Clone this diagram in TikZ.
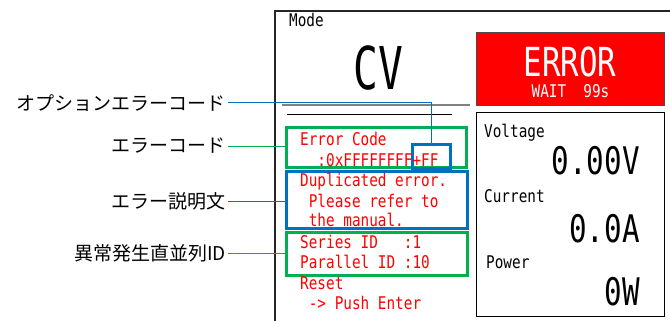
\documentclass[tikz,border=0pt]{standalone}
\usepackage{fontspec}
\newfontfamily\jpfont{Noto Sans CJK JP}
\newfontfamily\monoA[FakeStretch=0.82]{DejaVu Sans Mono}
\newfontfamily\monoB[FakeStretch=0.77]{DejaVu Sans Mono}
\newfontfamily\monoC[FakeStretch=0.70]{DejaVu Sans Mono}
\definecolor{ggreen}{HTML}{00B050}
\definecolor{bblue}{HTML}{0070C0}
\tikzset{
  lab/.style={font=\jpfont\fontsize{19}{19}\selectfont, anchor=east, inner sep=2pt},
  small/.style={font=\monoA\fontsize{17.5}{20}\selectfont, inner sep=0pt, anchor=base west},
  redtxt/.style={small, text=red},
  big/.style={font=\monoB\fontsize{38}{40}\selectfont, inner sep=0pt, anchor=base east},
  frame/.style={draw=black, line width=1pt, inner sep=0pt, outer sep=0pt, anchor=north west},
  gbox/.style={draw=ggreen, line width=3pt, inner sep=0pt, outer sep=0pt, anchor=north west},
  bbox/.style={draw=bblue, line width=3pt, inner sep=0pt, outer sep=0pt, anchor=north west},
  gline/.style={draw=ggreen, line width=1pt},
  bline/.style={draw=bblue, line width=1pt},
}
\begin{document}
\begin{tikzpicture}[x=1pt,y=-1pt]
\useasboundingbox (0,0) rectangle (670,321);
% display frame
\coordinate (fa) at (275,321);
\coordinate (fb) at (275,11);
\coordinate (fc) at (670,11);
\draw[line width=1.3pt, black!85] (fa) -- (fb) -- (fc);
% separator lines
\coordinate (ga) at (282,105);
\coordinate (gb) at (470,105);
\draw[line width=2pt, black!50] (ga) -- (gb);
\coordinate (ka) at (287,115);
\coordinate (kb) at (452,115);
\draw[line width=1pt, black] (ka) -- (kb);
% red error box
\node[frame, draw=black!70, fill=red, minimum width=188pt, minimum height=73pt] (err) at (476,33) {};
% right measurement box
\node[frame, minimum width=188pt, minimum height=203pt] (meas) at (476,113) {};
% highlight boxes
\node[gbox, minimum width=180pt, minimum height=40pt] (ec) at (286,127) {};
\node[bbox, minimum width=181pt, minimum height=57pt] (desc) at (286,171) {};
\node[gbox, minimum width=181pt, minimum height=43pt] (ids) at (286,232) {};
\node[bbox, minimum width=38pt, minimum height=24pt] (opt) at (412,144) {};
% display texts
\node[small] (mode) at (289,27) {Mode};
\node[font=\monoC\fontsize{59}{60}\selectfont, inner sep=0pt, anchor=base] (cv) at (378,90) {CV};
\node[font=\monoB\fontsize{40}{40}\selectfont, inner sep=0pt, anchor=base, text=white, text depth=0pt] (errt) at (570,77) {ERROR};
\node[small, anchor=base, text=white, text height=12pt] (wait) at (570.5,98) {WAIT~~99s};
\node[redtxt] (t1) at (300,145.5) {Error Code};
\node[redtxt] (t2) at (300,166) {~~:0xFFFFFFFF+FF};
\node[redtxt] (t3) at (300,186.5) {Duplicated error.};
\node[redtxt] (t4) at (300,207) {~Please refer to};
\node[redtxt] (t5) at (300,226.5) {~the manual.};
\node[redtxt] (t6) at (300,248) {Series ID~~~:1};
\node[redtxt] (t7) at (300,268.5) {Parallel ID :10};
\node[redtxt] (t8) at (300,289) {Reset};
\node[redtxt] (t9) at (300,309.5) {~-> Push Enter};
\node[small] (volt) at (484,137) {Voltage};
\node[big] (vval) at (640,175) {0.00V};
\node[small] (curr) at (484,202) {Current};
\node[big] (cval) at (640,242) {0.0A};
\node[small] (pow) at (486,268) {Power};
\node[big] (pval) at (640,305) {0W};
% labels
\node[lab] (l1) at (228,103) {オプションエラーコード};
\node[lab] (l2) at (228,146) {エラーコード};
\node[lab] (l3) at (228,201) {エラー説明文};
\node[lab] (l4) at (228,253) {異常発生直並列ID};
% leaders
\draw[bline] (l1.east) -| (opt.north);
\draw[gline] (l2.east) -- (l2.east -| ec.west);
\draw[bline] (l3.east) -- (l3.east -| desc.west);
\draw[gline] (l4.east) -- (l4.east -| ids.west);
\end{tikzpicture}
\end{document}
